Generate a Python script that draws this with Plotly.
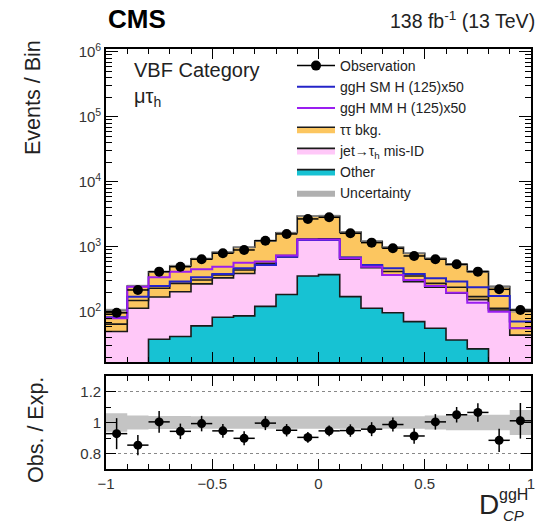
import numpy as np
import plotly.graph_objects as go

# Binning of the discriminant
bin_edges = np.round(np.linspace(-1.0, 1.0, 21), 3)
bin_centres = 0.5 * (bin_edges[:-1] + bin_edges[1:])

# Event yields per bin
observed = [97, 218, 417, 497, 647, 800, 899, 1250, 1585, 2700,
            2860, 1623, 1165, 955, 727, 647, 541, 417, 223, 107]
other_bkg = [6, 9, 38, 42, 61, 83, 87, 122, 186, 358,
             375, 172, 114, 97, 71, 56, 37, 27, 11, 5]
jet_fakes = [44, 105, 132, 163, 209, 252, 303, 406, 514, 912,
             905, 478, 366, 275, 222, 184, 157, 128, 96, 39]
tautau_a = [15, 36, 61, 70, 40, 37, 53, 32, 40, 50,
            50, 40, 30, 48, 65, 35, 46, 17, 7, 12]
tautau_b = [41, 100, 184, 235, 350, 458, 547, 685, 915, 1670,
            1670, 1000, 715, 565, 442, 390, 300, 248, 131, 50]
ggh_sm_x50 = [83, 172, 251, 293, 342, 385, 470, 528, 710, 1282,
              1282, 690, 528, 470, 385, 330, 293, 240, 176, 71]
ggh_mm_x50 = [80, 245, 342, 417, 454, 498, 573, 600, 740, 1300,
              1300, 670, 498, 372, 310, 251, 198, 139, 101, 56]

# Ratio panel
ratio = [0.928, 0.854, 1.004, 0.943, 0.993, 0.946, 0.898, 0.996, 0.950, 0.904,
         0.946, 0.948, 0.957, 0.987, 0.913, 1.004, 1.050, 1.065, 0.885, 1.011]
ratio_err = [0.10, 0.065, 0.07, 0.05, 0.05, 0.045, 0.045, 0.045, 0.04, 0.035,
             0.035, 0.04, 0.045, 0.045, 0.05, 0.05, 0.05, 0.06, 0.075, 0.115]
rel_unc = [0.06, 0.045, 0.042, 0.042, 0.04, 0.04, 0.04, 0.04, 0.04, 0.04,
           0.04, 0.04, 0.04, 0.04, 0.04, 0.045, 0.05, 0.05, 0.05, 0.08]

y_ticks_main = [1e2, 1e3, 1e4, 1e5, 1e6]
y_ticktext_main = ["10<sup>2</sup>", "10<sup>3</sup>", "10<sup>4</sup>",
                   "10<sup>5</sup>", "10<sup>6</sup>"]
x_ticks = [-1, -0.5, 0, 0.5, 1]
x_ticktext = ["\u22121", "\u22120.5", "0", "0.5", "1"]

COL_TT = "#fcc660"
COL_JET = "#ffc8f8"
COL_OTHER = "#17c2d3"
COL_UNC = "rgba(150,150,150,0.75)"
COL_SM = "#2424c8"
COL_MM = "#9a1ef0"
FONT = "Liberation Sans, Arial, sans-serif"

W, H = 549, 525
ML, MR, MT, MB = 106, 18, 49, 56
PW, PH = W - ML - MR, H - MT - MB


def px(x):
    return (x - ML) / PW


def py(y):
    return (H - MB - y) / PH


def step(vals):
    v = np.asarray(vals, dtype=float)
    return bin_edges, np.append(v, v[-1])


fig = go.Figure()

# Stacked backgrounds
cum_other = np.asarray(other_bkg, float)
cum_jet = cum_other + np.asarray(jet_fakes, float)
cum_tta = cum_jet + np.asarray(tautau_a, float)
total = cum_tta + np.asarray(tautau_b, float)

x0, yb = step(np.full(20, 1e-3))
fig.add_trace(go.Scatter(x=x0, y=yb, mode="lines", line=dict(width=0, shape="hv"),
                         showlegend=False, hoverinfo="skip", xaxis="x", yaxis="y"))
layers = [
    (cum_other, COL_OTHER, "Other", True, 6),
    (cum_jet, COL_JET, "jet\u2192\u03c4<sub>h</sub> mis-ID", True, 5),
    (cum_tta, COL_TT, "\u03c4\u03c4 bkg.", False, 4),
    (total, COL_TT, "\u03c4\u03c4 bkg.", True, 4),
]
for vals, col, name, leg, rank in layers:
    xs, ys = step(vals)
    fig.add_trace(go.Scatter(
        x=xs, y=ys, mode="lines", fill="tonexty", fillcolor=col,
        line=dict(color="#1a1a1a", width=1.6, shape="hv"),
        name=name, showlegend=leg, legendrank=rank, xaxis="x", yaxis="y"))

# Background uncertainty on the total
lo = total * (1 - np.asarray(rel_unc))
hi = total * (1 + np.asarray(rel_unc))
xs, ys = step(lo)
fig.add_trace(go.Scatter(x=xs, y=ys, mode="lines", line=dict(width=0, shape="hv"),
                         showlegend=False, hoverinfo="skip", xaxis="x", yaxis="y"))
xs, ys = step(hi)
fig.add_trace(go.Scatter(x=xs, y=ys, mode="lines", fill="tonexty", fillcolor=COL_UNC,
                         line=dict(width=0, shape="hv"), name="Uncertainty",
                         legendrank=7, xaxis="x", yaxis="y"))

# Signal templates
for vals, col, name, rank in [(ggh_sm_x50, COL_SM, "ggH SM H (125)x50", 2),
                              (ggh_mm_x50, COL_MM, "ggH MM H (125)x50", 3)]:
    xs, ys = step(vals)
    fig.add_trace(go.Scatter(x=xs, y=ys, mode="lines",
                             line=dict(color=col, width=2, shape="hv"),
                             name=name, legendrank=rank, xaxis="x", yaxis="y"))

# Observed data
fig.add_trace(go.Scatter(
    x=bin_centres, y=observed, mode="markers",
    marker=dict(color="black", size=10),
    error_x=dict(type="constant", value=0.05, color="black", thickness=1.5, width=0),
    error_y=dict(type="data", array=np.sqrt(observed), color="black", thickness=1.5, width=0),
    showlegend=False, xaxis="x", yaxis="y"))
fig.add_trace(go.Scatter(x=[None], y=[None], mode="lines+markers",
                         marker=dict(color="black", size=10),
                         line=dict(color="black", width=1.5),
                         name="Observation", legendrank=1, xaxis="x", yaxis="y"))

# Ratio panel
xs, ys = step(1 - np.asarray(rel_unc))
fig.add_trace(go.Scatter(x=xs, y=ys, mode="lines", line=dict(width=0, shape="hv"),
                         showlegend=False, hoverinfo="skip", xaxis="x2", yaxis="y2"))
xs, ys = step(1 + np.asarray(rel_unc))
fig.add_trace(go.Scatter(x=xs, y=ys, mode="lines", fill="tonexty", fillcolor="#c4c4c4",
                         line=dict(width=0, shape="hv"), showlegend=False,
                         xaxis="x2", yaxis="y2"))
fig.add_trace(go.Scatter(
    x=bin_centres, y=ratio, mode="markers",
    marker=dict(color="black", size=9),
    error_x=dict(type="constant", value=0.05, color="black", thickness=1.5, width=0),
    error_y=dict(type="data", array=ratio_err, color="black", thickness=1.5, width=0),
    showlegend=False, xaxis="x2", yaxis="y2"))

main_top = 1.0
main_bot = py(362)
ratio_top = py(376)

axis_common = dict(showline=True, linecolor="black", linewidth=1.6, mirror="allticks",
                   ticks="inside", tickcolor="black", tickwidth=1, zeroline=False,
                   showgrid=False)

minor_log = [m * 10 ** k for k in range(1, 7) for m in range(2, 10)]

fig.update_layout(
    width=W, height=H,
    margin=dict(l=ML, r=MR, t=MT, b=MB),
    paper_bgcolor="white", plot_bgcolor="white",
    font=dict(family=FONT, color="#222", size=14),
    xaxis=dict(domain=[0, 1], anchor="y", range=[-1, 1], tickvals=x_ticks,
               showticklabels=False, ticklen=10,
               minor=dict(ticks="inside", dtick=0.1, tick0=-1, ticklen=5,
                          tickcolor="black"),
               **axis_common),
    yaxis=dict(domain=[main_bot, main_top], anchor="x", type="log",
               range=[1.23, 6.046], tickvals=y_ticks_main, ticktext=y_ticktext_main,
               ticklen=12, tickfont=dict(size=15, color="#333"),
               minor=dict(ticks="inside", tickvals=minor_log, ticklen=6,
                          tickcolor="black"),
               **axis_common),
    xaxis2=dict(domain=[0, 1], anchor="y2", range=[-1, 1], tickvals=x_ticks,
                ticktext=x_ticktext, ticklen=10, tickfont=dict(size=15, color="#333"),
                minor=dict(ticks="inside", dtick=0.1, tick0=-1, ticklen=5,
                           tickcolor="black"),
                **axis_common),
    yaxis2=dict(domain=[0, ratio_top], anchor="x2", range=[0.7, 1.3],
                tickvals=[0.8, 1.0, 1.2], ticktext=["0.8", "1", "1.2"], ticklen=10,
                tickfont=dict(size=15, color="#333"),
                minor=dict(ticks="inside", dtick=0.1, tick0=0.7, ticklen=5,
                           tickcolor="black"),
                **{k: v for k, v in axis_common.items() if k != "showgrid"},
                showgrid=True, gridcolor="#888", griddash="dot", gridwidth=1),
    legend=dict(x=px(292), y=py(50), xanchor="left", yanchor="top",
                bgcolor="rgba(0,0,0,0)", font=dict(size=14, color="#222"),
                tracegroupgap=0, itemwidth=38, traceorder="normal"),
    showlegend=True,
)

ann = [
    dict(x=px(106), y=py(19), text="<b>CMS</b>", xanchor="left", yanchor="middle",
         font=dict(size=26, color="black")),
    dict(x=px(537), y=py(20), text="138 fb<sup>-1</sup> (13 TeV)", xanchor="right",
         yanchor="middle", font=dict(size=19.5, color="#222")),
    dict(x=px(132), y=py(70), text="VBF Category", xanchor="left", yanchor="middle",
         font=dict(size=20, color="#222")),
    dict(x=px(132), y=py(97), text="\u03bc\u03c4<sub>h</sub>", xanchor="left",
         yanchor="middle", font=dict(size=20, color="#222")),
    dict(x=px(33), y=py(98), text="Events / Bin", textangle=-90, xanchor="center",
         yanchor="middle", font=dict(size=21.5, color="#222")),
    dict(x=px(36), y=py(430), text="Obs. / Exp.", textangle=-90, xanchor="center",
         yanchor="middle", font=dict(size=21.5, color="#222")),
    dict(x=px(489), y=py(505), text="D", xanchor="center", yanchor="middle",
         font=dict(size=28, color="#222")),
    dict(x=px(513), y=py(494), text="ggH", xanchor="center", yanchor="middle",
         font=dict(size=16, color="#222")),
    dict(x=px(513), y=py(515), text="<i>CP</i>", xanchor="center", yanchor="middle",
         font=dict(size=15, color="#222")),
]
for a in ann:
    a.update(xref="paper", yref="paper", showarrow=False)
fig.update_layout(annotations=ann)

fig.write_html("out.html")
